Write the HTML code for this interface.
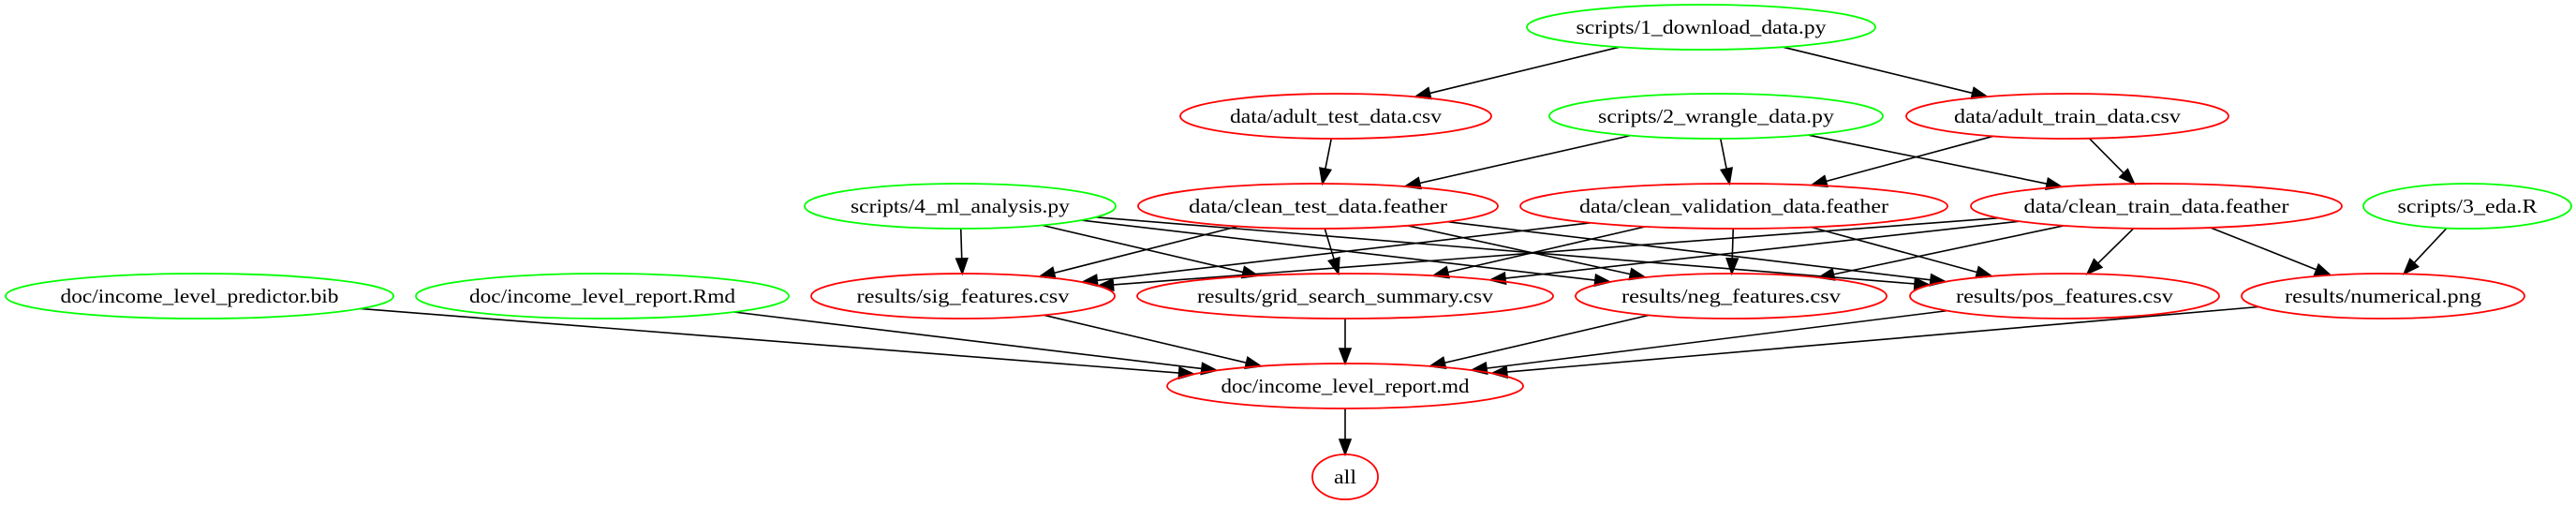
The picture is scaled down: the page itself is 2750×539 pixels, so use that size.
<!DOCTYPE html>
<html><head><meta charset="utf-8"><style>html,body{margin:0;padding:0;background:#fff}svg{display:block}</style></head>
<body>
<svg id="g" width="2750" height="539" viewBox="0 0 2750 539" xmlns="http://www.w3.org/2000/svg" font-family="'Liberation Serif', serif" font-size="21">
<g id="edges" stroke="#000" stroke-width="1.6" fill="#000"></g>
<g id="nodes" fill="none" stroke-width="1.8">
<ellipse cx="1816" cy="29" rx="186" ry="24" stroke="#00ff00"/>
<ellipse cx="1426" cy="124" rx="166" ry="24" stroke="#ff0000"/>
<ellipse cx="1832" cy="124" rx="178" ry="24" stroke="#00ff00"/>
<ellipse cx="2207" cy="124" rx="172" ry="24" stroke="#ff0000"/>
<ellipse cx="1025" cy="220" rx="166" ry="24" stroke="#00ff00"/>
<ellipse cx="1407" cy="220" rx="192" ry="24" stroke="#ff0000"/>
<ellipse cx="1851" cy="220" rx="228" ry="24" stroke="#ff0000"/>
<ellipse cx="2302" cy="220" rx="198" ry="24" stroke="#ff0000"/>
<ellipse cx="2634" cy="220" rx="111" ry="24" stroke="#00ff00"/>
<ellipse cx="213" cy="316" rx="207" ry="24" stroke="#00ff00"/>
<ellipse cx="643" cy="316" rx="199" ry="24" stroke="#00ff00"/>
<ellipse cx="1028" cy="316" rx="162" ry="24" stroke="#ff0000"/>
<ellipse cx="1436" cy="316" rx="222" ry="24" stroke="#ff0000"/>
<ellipse cx="1848" cy="316" rx="166" ry="24" stroke="#ff0000"/>
<ellipse cx="2204" cy="316" rx="165" ry="24" stroke="#ff0000"/>
<ellipse cx="2544" cy="316" rx="151" ry="24" stroke="#ff0000"/>
<ellipse cx="1436" cy="412" rx="190" ry="24" stroke="#ff0000"/>
<ellipse cx="1436" cy="509" rx="35" ry="24" stroke="#ff0000"/>
</g>
<g fill="#000" text-anchor="middle" lengthAdjust="spacingAndGlyphs">
<text x="1816" y="36" textLength="267" lengthAdjust="spacingAndGlyphs">scripts/1_download_data.py</text>
<text x="1426" y="131" textLength="226" lengthAdjust="spacingAndGlyphs">data/adult_test_data.csv</text>
<text x="1832" y="131" textLength="252" lengthAdjust="spacingAndGlyphs">scripts/2_wrangle_data.py</text>
<text x="2207" y="131" textLength="242" lengthAdjust="spacingAndGlyphs">data/adult_train_data.csv</text>
<text x="1025" y="227" textLength="234" lengthAdjust="spacingAndGlyphs">scripts/4_ml_analysis.py</text>
<text x="1407" y="227" textLength="276" lengthAdjust="spacingAndGlyphs">data/clean_test_data.feather</text>
<text x="1851" y="227" textLength="330" lengthAdjust="spacingAndGlyphs">data/clean_validation_data.feather</text>
<text x="2302" y="227" textLength="283" lengthAdjust="spacingAndGlyphs">data/clean_train_data.feather</text>
<text x="2634" y="227" textLength="149" lengthAdjust="spacingAndGlyphs">scripts/3_eda.R</text>
<text x="213" y="323" textLength="297" lengthAdjust="spacingAndGlyphs">doc/income_level_predictor.bib</text>
<text x="643" y="323" textLength="284" lengthAdjust="spacingAndGlyphs">doc/income_level_report.Rmd</text>
<text x="1028" y="323" textLength="227" lengthAdjust="spacingAndGlyphs">results/sig_features.csv</text>
<text x="1436" y="323" textLength="316" lengthAdjust="spacingAndGlyphs">results/grid_search_summary.csv</text>
<text x="1848" y="323" textLength="234" lengthAdjust="spacingAndGlyphs">results/neg_features.csv</text>
<text x="2204" y="323" textLength="232" lengthAdjust="spacingAndGlyphs">results/pos_features.csv</text>
<text x="2544" y="323" textLength="210" lengthAdjust="spacingAndGlyphs">results/numerical.png</text>
<text x="1436" y="419" textLength="265" lengthAdjust="spacingAndGlyphs">doc/income_level_report.md</text>
<text x="1436" y="516" textLength="24" lengthAdjust="spacingAndGlyphs">all</text>
</g>
</svg>
<script>
(function(){
var N={
d1:[1816,29,186],at:[1426,124,166],w2:[1832,124,178],atr:[2207,124,172],
m4:[1025,220,166],ct:[1407,220,192],cv:[1851,220,228],ctr:[2302,220,198],e3:[2634,220,111],
bib:[213,316,207],rmd:[643,316,199],sig:[1028,316,162],grid:[1436,316,222],neg:[1848,316,166],pos:[2204,316,165],num:[2544,316,151],
md:[1436,412,190],all:[1436,509,35]};
var E=[["d1","at"],["d1","atr"],["at","ct"],["w2","ct"],["w2","cv"],["w2","ctr"],["atr","cv"],["atr","ctr"],
["m4","sig"],["m4","grid"],["m4","neg"],["m4","pos"],
["ct","sig"],["ct","grid"],["ct","neg"],["ct","pos"],
["cv","sig"],["cv","grid"],["cv","neg"],["cv","pos"],
["ctr","sig"],["ctr","grid"],["ctr","neg"],["ctr","pos"],["ctr","num"],["e3","num"],
["bib","md"],["rmd","md"],["sig","md"],["grid","md"],["neg","md"],["pos","md"],["num","md"],["md","all"]];
var ry=24,g=document.getElementById("edges"),ns="http://www.w3.org/2000/svg",s="";
function bp(n,dx,dy){var t=1/Math.sqrt((dx/n[2])*(dx/n[2])+(dy/ry)*(dy/ry));return [n[0]+dx*t,n[1]+dy*t];}
E.forEach(function(e){var a=N[e[0]],b=N[e[1]];
// aim toward a point shifted to simulate graphviz ports
var dx=b[0]-a[0],dy=b[1]-a[1];
var p=bp(a,dx,dy),q=bp(b,-dx,-dy);
var lx=q[0]-p[0],ly=q[1]-p[1],L=Math.sqrt(lx*lx+ly*ly),ux=lx/L,uy=ly/L;
var al=16,aw=6,bx=q[0]-ux*al,by=q[1]-uy*al;
s+='<line x1="'+p[0]+'" y1="'+p[1]+'" x2="'+bx+'" y2="'+by+'"/>';
s+='<polygon points="'+q[0]+','+q[1]+' '+(bx-uy*aw)+','+(by+ux*aw)+' '+(bx+uy*aw)+','+(by-ux*aw)+'"/>';
});
g.innerHTML=s;
})();
</script>
</body></html>
